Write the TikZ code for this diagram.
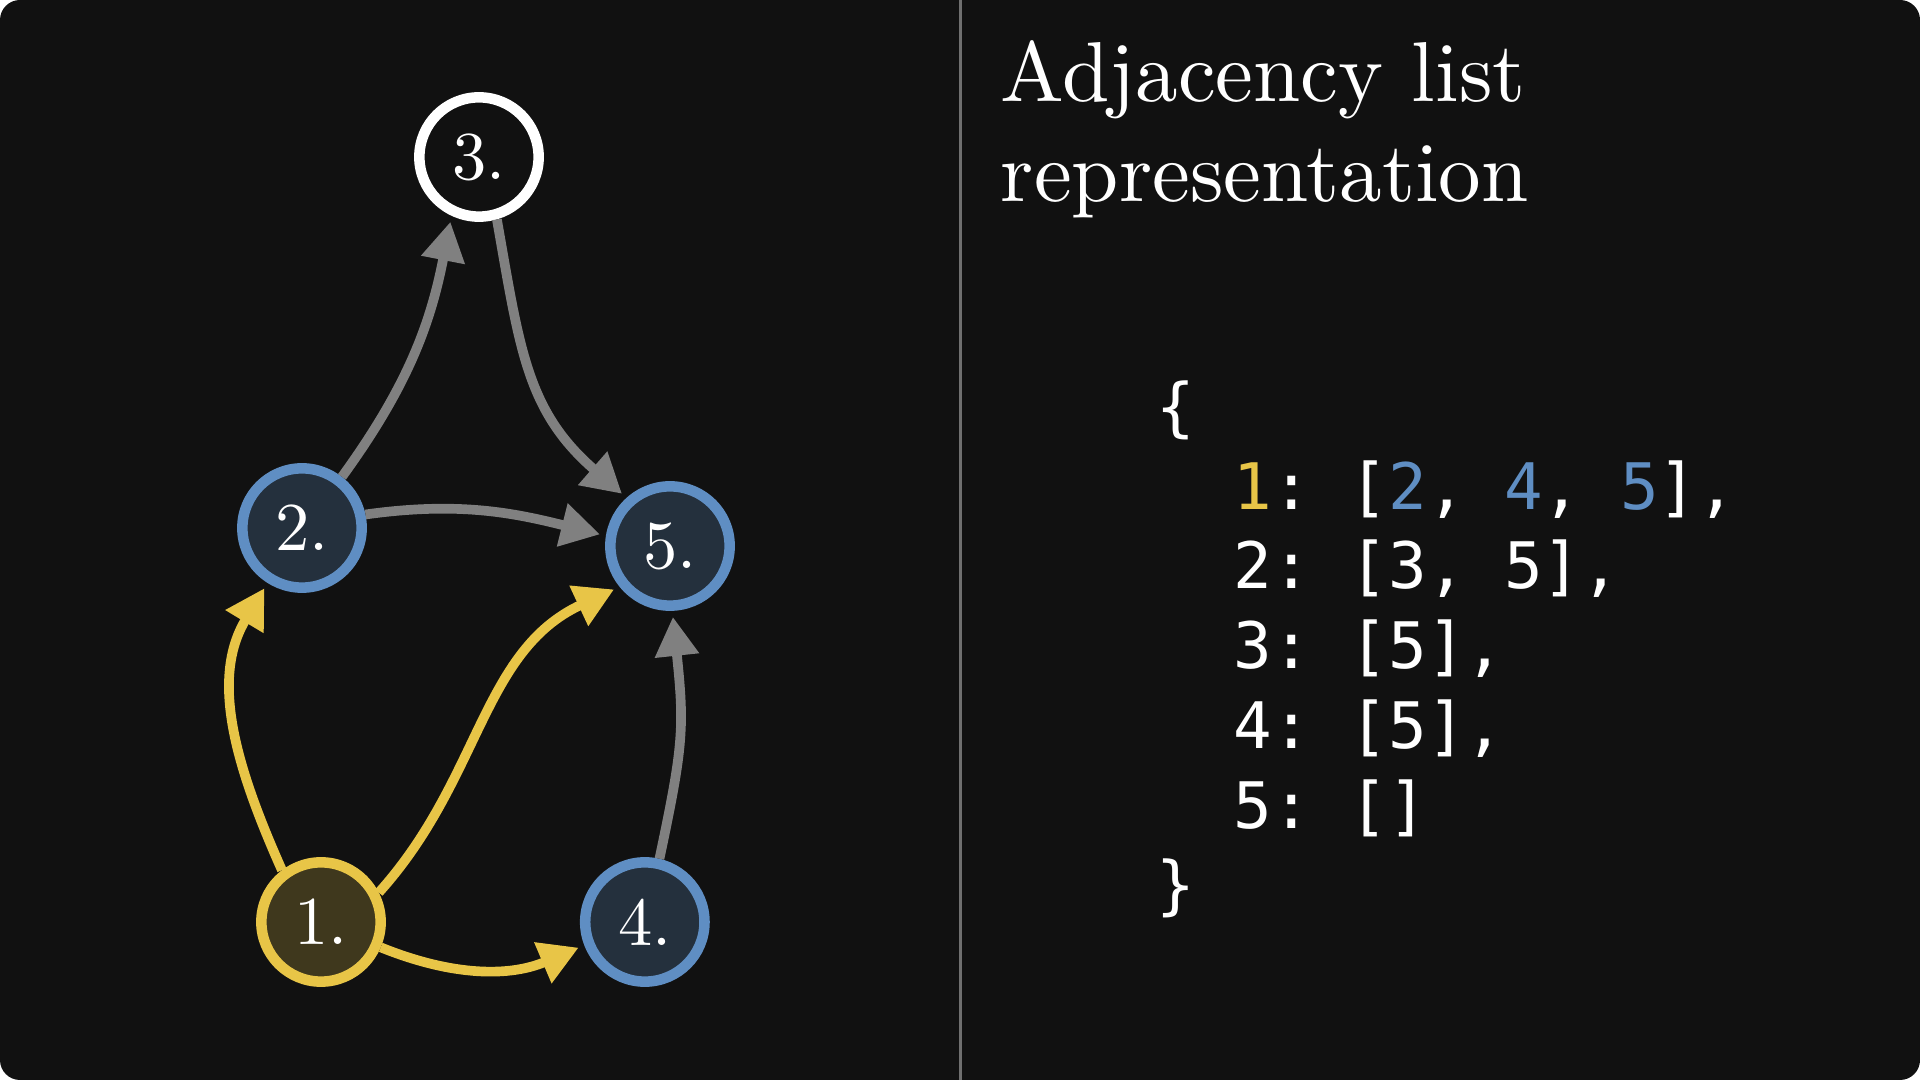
\documentclass[tikz,border=0pt]{standalone}
\usepackage{fontspec}
\setmonofont{DejaVu Sans Mono}
\newfontfamily\cmfont{lmroman10-regular.otf}
\usepackage{xcolor}
\usepackage{tikz}
\usetikzlibrary{arrows.meta,positioning}
\definecolor{bgdark}{HTML}{111111}
\definecolor{nodeyellow}{HTML}{E8C547}
\definecolor{fillyellow}{HTML}{3F381D}
\definecolor{nodeblue}{HTML}{5F8EC3}
\definecolor{fillblue}{HTML}{24303D}
\definecolor{edgegray}{HTML}{808080}
\definecolor{dividergray}{HTML}{707070}
\tikzset{
  g/vertex/.style={circle, line width=3pt, minimum size=11.93mm, inner sep=0pt, text=white,
    font=\cmfont\fontsize{19.5}{20}\selectfont},
  g/start/.style={g/vertex, draw=nodeyellow, fill=fillyellow},
  g/next/.style={g/vertex, draw=nodeblue, fill=fillblue},
  g/plain/.style={g/vertex, draw=white, fill=bgdark},
  g/edge/.style={line width=2.75pt, draw=edgegray, -{Triangle[length=3.9mm,width=4.2mm]}, shorten >=0.6mm},
  g/hot/.style={g/edge, draw=nodeyellow},
  title/.style={text=white, align=left, inner sep=0pt, font=\cmfont\fontsize{24.2}{28.7}\selectfont},
  code/.style={text=white, align=left, inner sep=0pt, font=\ttfamily\frenchspacing\fontsize{18.25}{22.7}\selectfont},
  divider/.style={line width=0.85pt, draw=dividergray}
}

\begin{document}
\begin{tikzpicture}
  % frame
  \useasboundingbox (0,0) rectangle (19.2,10.8);
  \fill[white] (0,0) rectangle (19.2,10.8);
  \fill[bgdark, rounded corners=2mm] (0,0) rectangle (19.2,10.8);
  \draw[divider] (9.6,0) -- (9.6,10.8);

  % graph
  \node[g/start] (n1) at (3.21,1.58) {1.};
  \node[g/next, right=19.4mm of n1] (n4) {4.};
  \node[g/next] (n2) at (3.02,5.52) {2.};
  \node[g/next] (n5) at (6.70,5.34) {5.};
  \node[g/plain] (n3) at (4.79,9.23) {3.};

  \draw[g/hot] (n1.127) to[out=114, in=239] (n2.238);
  \draw[g/hot] (n1.27) to[out=48, in=205] (n5.219);
  \draw[g/hot] (n1.-23) to[out=-22, in=203] (n4.201);
  \draw[g/edge] (n2.52) to[out=54, in=259] (n3.245);
  \draw[g/edge] (n2.12) to[out=8, in=166] (n5.171);
  \draw[g/edge] (n3.-74) to[out=-80, in=139, looseness=1.1] (n5.132);
  \draw[g/edge] (n4.77) to[out=78, in=276, looseness=1.2] (n5.272);

  % right side, base = last line
  \node[title, anchor=base west] (heading) at (10.0,8.78) {Adjacency list\\representation};
  \node[code, anchor=base west] (adjlist) at (11.56,1.72) {\{\\
    \hphantom{00}\textcolor{nodeyellow}{1}: [\textcolor{nodeblue}{2}, \textcolor{nodeblue}{4}, \textcolor{nodeblue}{5}],\\
    \hphantom{00}2: [3, 5],\\
    \hphantom{00}3: [5],\\
    \hphantom{00}4: [5],\\
    \hphantom{00}5: []\\
    \}};
\end{tikzpicture}
\end{document}
